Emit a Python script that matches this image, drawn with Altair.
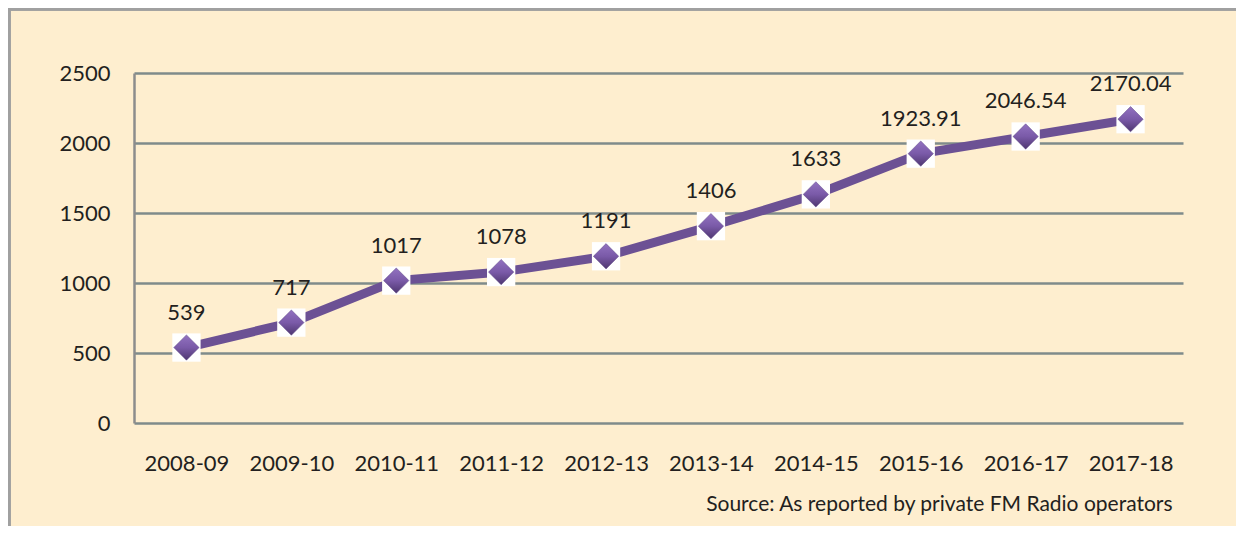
import altair as alt
import pandas as pd

years = ["2008-09", "2009-10", "2010-11", "2011-12", "2012-13",
         "2013-14", "2014-15", "2015-16", "2016-17", "2017-18"]
values = [539, 717, 1017, 1078, 1191, 1406, 1633, 1923.91, 2046.54, 2170.04]
labels = ["539", "717", "1017", "1078", "1191", "1406", "1633",
          "1923.91", "2046.54", "2170.04"]
y_ticks = [0, 500, 1000, 1500, 2000, 2500]
source_note = "Source: As reported by private FM Radio operators"

df = pd.DataFrame({"year": years, "value": values, "label": labels})

FONT = "Lato"
BG = "#FEEECF"
W, H = 1049, 350
PAD = {"left": 126, "top": 65, "right": 53, "bottom": 103}

x_enc = alt.X("year:N", sort=years,
              scale=alt.Scale(paddingInner=0, paddingOuter=0.5),
              axis=alt.Axis(title=source_note, labelAngle=0, ticks=False,
                            domain=False, labelPadding=30, labelFontSize=22,
                            labelColor="#231F20", labelFont=FONT,
                            titleFont=FONT, titleFontSize=21,
                            titleFontWeight="normal", titleColor="#231F20",
                            titleAlign="right", titleAnchor="end",
                            titleX=1038, titleY=81, titleBaseline="middle"))
y_enc = alt.Y("value:Q", scale=alt.Scale(domain=[0, 2500], nice=False),
              axis=alt.Axis(values=y_ticks, title=None, ticks=False, format="d",
                            domain=True, domainColor="#8C8C8C", domainWidth=2.5,
                            grid=True, gridColor="#7F8B8B", gridWidth=2.5,
                            labelPadding=24, labelFontSize=22,
                            labelColor="#231F20", labelFont=FONT))

base = alt.Chart(df)

line = base.mark_line(color="#6C5194", strokeWidth=9).encode(x=x_enc, y=y_enc)

bg_square = base.mark_point(shape="square", filled=True, color="white",
                            opacity=1, size=800).encode(x="year:N", y="value:Q")

diamond = base.mark_point(
    shape="diamond", filled=True, opacity=1, size=640,
    fill=alt.Gradient(gradient="linear", x1=0, y1=0, x2=0, y2=1,
                      stops=[alt.GradientStop(color="#9272C0", offset=0),
                             alt.GradientStop(color="#7A5AA8", offset=0.5),
                             alt.GradientStop(color="#4E3670", offset=1)]),
    stroke="#5C4484", strokeWidth=0.5,
).encode(x="year:N", y="value:Q")

text = base.mark_text(dy=-35, fontSize=22, font=FONT, color="#231F20",
                      baseline="middle").encode(x="year:N", y="value:Q",
                                                text="label:N")

frame_top = alt.Chart(df).mark_rule(color="#A0A0A0", strokeWidth=2.5).encode(
    x=alt.value(-PAD["left"]), x2=alt.value(W + PAD["right"]),
    y=alt.value(-PAD["top"] + 1))
frame_left = alt.Chart(df).mark_rule(color="#A0A0A0", strokeWidth=2.5).encode(
    x=alt.value(-PAD["left"] + 1), y=alt.value(-PAD["top"]),
    y2=alt.value(H + PAD["bottom"]))

chart = alt.layer(line, bg_square, diamond, text, frame_top, frame_left).properties(
    width=W, height=H, background=BG, padding=PAD,
    autosize=alt.AutoSizeParams(type="none"),
).configure_view(stroke=None)

chart.save("out.html", embed_options={"renderer": "svg", "actions": False})
